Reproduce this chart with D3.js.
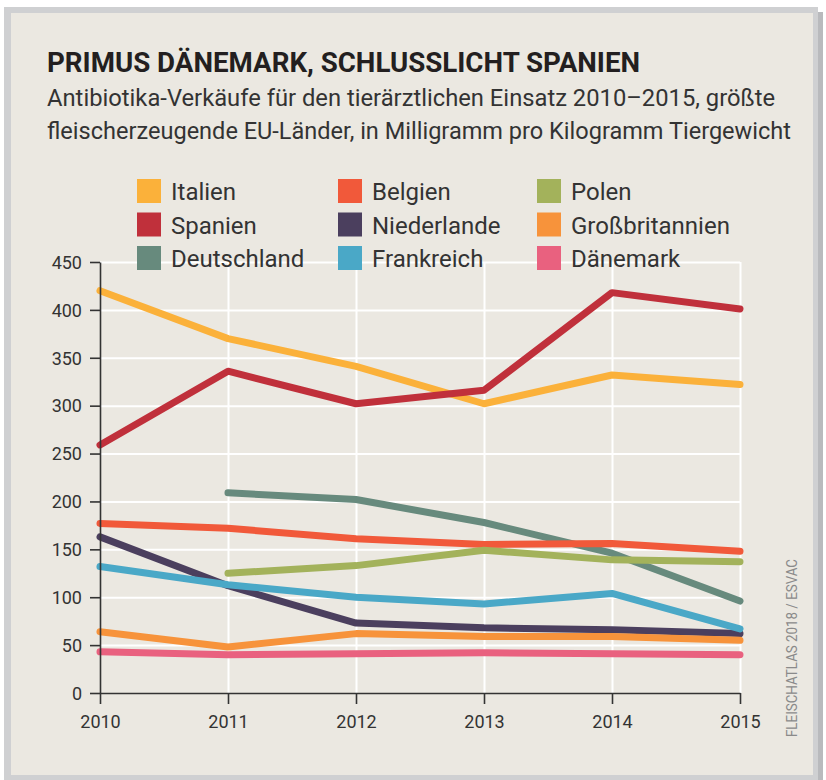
<!DOCTYPE html>
<meta charset="utf-8">
<style>
body { margin: 0; background: #fff; }
svg { display: block; font-family: Roboto, "Noto Sans", sans-serif; }
.axis path, .axis line { stroke: #333; stroke-width: 1.6; }
.axis text { font-size: 18px; fill: #333; font-family: Roboto, sans-serif; }
.grid line { stroke: #fff; stroke-width: 2; }
.grid path { display: none; }
</style>
<svg width="826" height="780"></svg>
<script src="https://cdn.jsdelivr.net/npm/d3@7"></script>
<script>

var years = [2010, 2011, 2012, 2013, 2014, 2015];
var countries = ["Italien", "Spanien", "Deutschland", "Belgien", "Niederlande", "Frankreich", "Polen", "Großbritannien", "Dänemark"];
var colors = ["#fbb13a", "#c0303b", "#678a7d", "#f1593a", "#4b3f5e", "#4aa8c7", "#a3b25b", "#f7933b", "#e9617f"];

var italien        = [420, 370, 341, 302, 332, 322];
var spanien        = [259, 336, 302, 316, 418, 401];
var deutschland    = [null, 209, 202, 178, 146, 96];
var belgien        = [177, 172, 161, 155, 156, 148];
var niederlande    = [163, 112, 73, 68, 66, 62];
var frankreich     = [132, 113, 100, 93, 104, 67];
var polen          = [null, 125, 133, 149, 139, 137];
var grossbritannien = [64, 48, 62, 59, 59, 55];
var daenemark      = [43, 40, 41, 42, 41, 40];

var values = [italien, spanien, deutschland, belgien, niederlande, frankreich, polen, grossbritannien, daenemark];
var yTicks = [0, 50, 100, 150, 200, 250, 300, 350, 400, 450];

var svg = d3.select("svg");

// frame
svg.append("rect").attr("x", 4).attr("y", 7).attr("width", 814).attr("height", 773).attr("fill", "#cfd0d2");
svg.append("rect").attr("x", 818).attr("y", 12).attr("width", 5).attr("height", 768).attr("fill", "#b9babd");
svg.append("rect").attr("x", 11).attr("y", 13).attr("width", 802).attr("height", 762).attr("fill", "#ebe8e1");

// titles
svg.append("text").attr("x", 47).attr("y", 72)
  .attr("font-size", 28).attr("font-weight", "bold").attr("fill", "#231f20")
  .attr("textLength", 593).attr("lengthAdjust", "spacingAndGlyphs")
  .text("PRIMUS DÄNEMARK, SCHLUSSLICHT SPANIEN");
svg.append("text").attr("x", 47).attr("y", 106)
  .attr("font-size", 24).attr("fill", "#333")
  .attr("textLength", 728).attr("lengthAdjust", "spacingAndGlyphs")
  .text("Antibiotika-Verkäufe für den tierärztlichen Einsatz 2010–2015, größte");
svg.append("text").attr("x", 47).attr("y", 139)
  .attr("font-size", 24).attr("fill", "#333")
  .attr("textLength", 744).attr("lengthAdjust", "spacingAndGlyphs")
  .text("fleischerzeugende EU-Länder, in Milligramm pro Kilogramm Tiergewicht");

var margin = {left: 100, top: 262},
    width = 640, height = 431;

var x = d3.scaleLinear().domain([2010, 2015]).range([0, width]);
var y = d3.scaleLinear().domain([0, 450]).range([height, 0]);

var g = svg.append("g").attr("transform", "translate(" + margin.left + "," + margin.top + ")");

// grid
g.append("g").attr("class", "grid")
  .call(d3.axisLeft(y).tickValues(yTicks.slice(1)).tickSize(-width).tickFormat(""));
g.append("g").attr("class", "grid")
  .attr("transform", "translate(0," + height + ")")
  .call(d3.axisBottom(x).tickValues(years.slice(1)).tickSize(-height).tickFormat(""));

// lines
var line = d3.line()
  .defined(function(d) { return d != null; })
  .x(function(d, i) { return x(years[i]); })
  .y(function(d) { return y(d); });

g.selectAll(".series")
  .data(values)
  .enter().append("path")
    .attr("class", "series")
    .attr("fill", "none")
    .attr("stroke", function(d, i) { return colors[i]; })
    .attr("stroke-width", 7)
    .attr("stroke-linejoin", "round")
    .attr("stroke-linecap", "round")
    .attr("d", line);

// axes
g.append("g").attr("class", "axis")
  .call(d3.axisLeft(y).tickValues(yTicks).tickSize(10).tickPadding(8).tickSizeOuter(0))
  .selectAll("text").attr("dy", "0.35em");
g.append("g").attr("class", "axis")
  .attr("transform", "translate(0," + height + ")")
  .call(d3.axisBottom(x).tickValues(years).tickFormat(d3.format("d")).tickSize(11).tickPadding(11).tickSizeOuter(0));

// legend, three columns filled top to bottom
var legend = svg.append("g").selectAll("g")
  .data(countries)
  .enter().append("g")
    .attr("transform", function(d, i) {
      return "translate(" + [137, 338, 537][Math.floor(i / 3)] + "," + (179 + (i % 3) * 33.5) + ")";
    });
legend.append("rect").attr("width", 24).attr("height", 24)
  .attr("fill", function(d, i) { return colors[i]; });
legend.append("text").attr("x", 34).attr("y", 21)
  .attr("font-size", 24).attr("fill", "#333")
  .text(function(d) { return d; });

// source
svg.append("text")
  .attr("transform", "translate(797,737) rotate(-90)")
  .attr("font-size", 15).attr("fill", "#8a8a8a")
  .attr("textLength", 178).attr("lengthAdjust", "spacingAndGlyphs")
  .text("FLEISCHATLAS 2018 / ESVAC");

</script>
